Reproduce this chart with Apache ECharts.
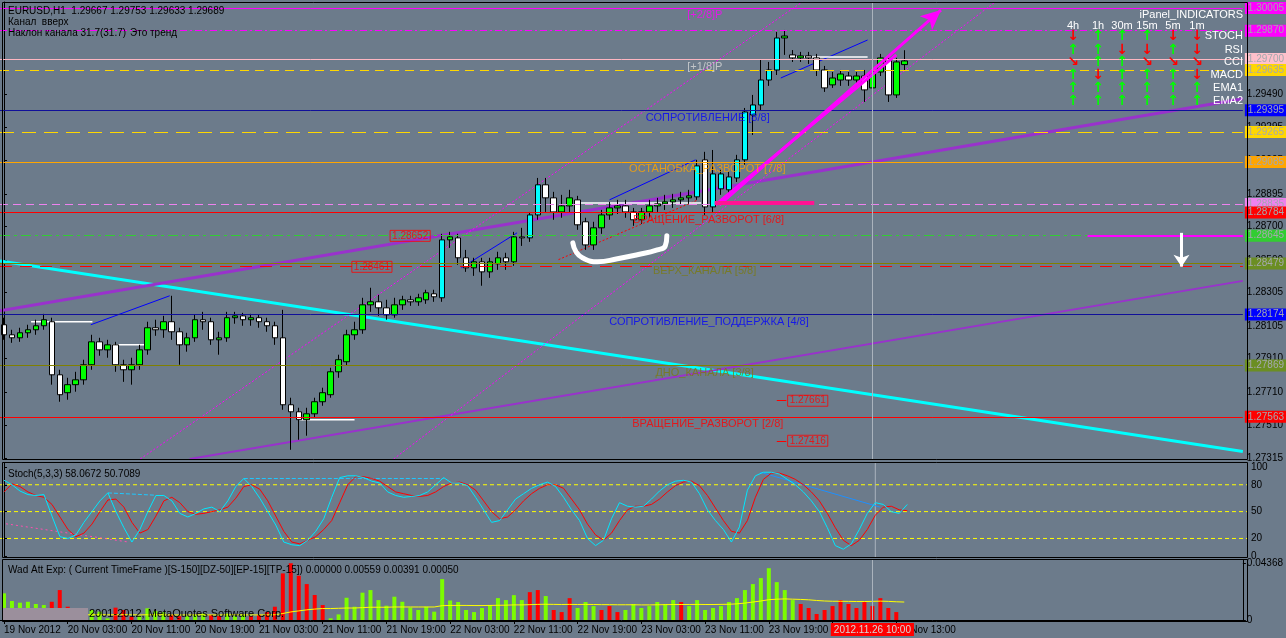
<!DOCTYPE html>
<html><head><meta charset="utf-8">
<script src="https://cdn.jsdelivr.net/npm/echarts@6.0.0/dist/echarts.min.js"></script>
<style>html,body{margin:0;padding:0;background:#6c7b8b;overflow:hidden}#chart{width:1286px;height:638px}</style>
</head><body><div id="chart"></div>
<script>
// ---------- DATA ----------
const openP = [1.28113,1.28053,1.28035,1.28065,1.28083,1.28107,1.28131,1.27814,1.27707,1.27755,
1.27784,1.27874,1.28011,1.27963,1.27993,1.27874,1.27844,1.27874,1.27963,1.28095,
1.28083,1.28131,1.28071,1.27993,1.28035,1.28143,1.28131,1.28023,1.28035,1.28155,
1.28166,1.28143,1.28155,1.28131,1.28107,1.28035,1.27635,1.27593,1.27546,1.27581,
1.27653,1.27695,1.27832,1.27892,1.28053,1.28083,1.28232,1.28250,1.28214,1.28172,
1.28232,1.28262,1.28250,1.28262,1.28298,1.28274,1.28620,1.28632,1.28513,1.28453,
1.28489,1.28429,1.28477,1.28513,1.28489,1.28638,1.28632,1.28769,1.28949,1.28871,
1.28787,1.28823,1.28859,1.28728,1.28590,1.28692,1.28769,1.28811,1.28823,1.28787,
1.28740,1.28787,1.28823,1.28835,1.28847,1.28859,1.28871,1.28877,1.29098,1.28817,
1.28925,1.28919,1.28990,1.29098,1.29366,1.29426,1.29575,1.29635,1.29826,1.29725,
1.29707,1.29719,1.29707,1.29635,1.29546,1.29575,1.29599,1.29575,1.29599,1.29528,
1.29623,1.29695,1.29486,1.29667];
const highP = [1.28155,1.28083,1.28095,1.28113,1.28143,1.28178,1.28155,1.27844,1.27796,1.27832,
1.27904,1.28053,1.28035,1.28023,1.28011,1.27904,1.27916,1.27993,1.28131,1.28143,
1.28166,1.28286,1.28095,1.28065,1.28172,1.28190,1.28155,1.28071,1.28190,1.28190,
1.28184,1.28178,1.28172,1.28155,1.28131,1.28202,1.27677,1.27617,1.27617,1.27677,
1.27737,1.27856,1.27934,1.28083,1.28131,1.28274,1.28334,1.28292,1.28262,1.28274,
1.28286,1.28286,1.28298,1.28322,1.28322,1.28656,1.28668,1.28656,1.28560,1.28513,
1.28513,1.28513,1.28549,1.28543,1.28668,1.28692,1.28787,1.28990,1.28990,1.28907,
1.28889,1.28919,1.28883,1.28752,1.28728,1.28799,1.28847,1.28859,1.28859,1.28811,
1.28811,1.28859,1.28871,1.28889,1.28895,1.28907,1.28919,1.29098,1.29146,1.29157,
1.29038,1.29026,1.29128,1.29408,1.29486,1.29695,1.29683,1.29862,1.29874,1.29754,
1.29743,1.29743,1.29731,1.29659,1.29623,1.29635,1.29623,1.29623,1.29635,1.29695,
1.29731,1.29725,1.29707,1.29753];
const lowP = [1.28023,1.28005,1.28011,1.28035,1.28053,1.28083,1.27755,1.27653,1.27665,1.27713,
1.27755,1.27844,1.27928,1.27916,1.27832,1.27772,1.27755,1.27844,1.27934,1.28047,
1.28035,1.28023,1.27874,1.27952,1.28011,1.28083,1.27993,1.27934,1.28011,1.28119,
1.28107,1.28107,1.28095,1.28071,1.27993,1.27605,1.27366,1.27426,1.27450,1.27558,
1.27629,1.27677,1.27796,1.27868,1.28023,1.28059,1.28190,1.28166,1.28143,1.28155,
1.28202,1.28226,1.28226,1.28238,1.28250,1.28250,1.28572,1.28471,1.28429,1.28405,
1.28346,1.28393,1.28441,1.28441,1.28465,1.28584,1.28608,1.28740,1.28787,1.28740,
1.28752,1.28787,1.28680,1.28560,1.28560,1.28656,1.28740,1.28775,1.28752,1.28704,
1.28716,1.28752,1.28787,1.28799,1.28811,1.28829,1.28835,1.28859,1.28769,1.28787,
1.28889,1.28889,1.28966,1.29068,1.29247,1.29396,1.29540,1.29605,1.29725,1.29683,
1.29683,1.29671,1.29599,1.29504,1.29528,1.29540,1.29540,1.29552,1.29444,1.29504,
1.29599,1.29444,1.29468,1.29633];
const closeP = [1.28053,1.28035,1.28065,1.28083,1.28107,1.28143,1.27814,1.27695,1.27755,1.27784,
1.27874,1.28011,1.27963,1.27993,1.27874,1.27844,1.27874,1.27963,1.28095,1.28083,
1.28131,1.28071,1.27993,1.28035,1.28143,1.28131,1.28023,1.28035,1.28155,1.28166,
1.28143,1.28155,1.28131,1.28107,1.28035,1.27635,1.27593,1.27546,1.27581,1.27653,
1.27707,1.27832,1.27904,1.28053,1.28083,1.28232,1.28250,1.28214,1.28172,1.28232,
1.28262,1.28250,1.28274,1.28304,1.28280,1.28620,1.28638,1.28513,1.28453,1.28489,
1.28429,1.28489,1.28513,1.28489,1.28638,1.28632,1.28769,1.28949,1.28871,1.28787,
1.28823,1.28871,1.28710,1.28590,1.28692,1.28769,1.28811,1.28823,1.28787,1.28740,
1.28787,1.28823,1.28835,1.28847,1.28859,1.28871,1.28883,1.29062,1.28817,1.29014,
1.29014,1.28996,1.29098,1.29384,1.29426,1.29575,1.29635,1.29826,1.29838,1.29707,
1.29719,1.29707,1.29635,1.29528,1.29587,1.29611,1.29575,1.29599,1.29516,1.29623,
1.29707,1.29486,1.29683,1.29689];
// bars flagged by the impulse indicator (drawn cyan)
const impulseBars = [55,66,67,87,89,90,91,92,93,94,95,96,97];

const stochMain = [85,80,73,69,68,69,45,22,20,24, 38,50,62,71,50,32,16,30,50,68,
68,62,48,44,48,53,55,50,62,78, 87,78,65,50,35,16,13,12,18,28, 42,66,88,90,90,88,84,82,72,68,
66,67,68,72,80,88,82,82,79,66, 52,38,40,52,64,70,76,80,83,78, 66,52,40,20,12,18,42,60,56,55,
56,64,73,80,84,85,83,70,52,40, 30,16,33,74,90,94,94,92,86,80, 72,62,50,32,12,8,14,30,48,60, 58,50,48,58];
const stochSignal = [72,81,78,72,68,66,58,44,30,22, 26,36,50,63,64,55,38,26,30,45,
62,66,60,50,47,48,50,52,55,65, 78,80,75,62,45,28,16,14,18,22, 30,40,60,80,89,89,87,84,78,72,
70,68,67,68,72,78,82,83,80,74, 62,50,42,44,52,62,70,76,80,80, 76,64,52,36,24,18,26,40,52,56,
56,58,64,72,79,83,84,79,68,54, 40,28,26,40,66,86,93,93,90,86, 80,72,62,48,32,18,12,18,30,46, 55,56,52,51];

const wadValue = [.0205,.0146,.0133,.0140,.0123,.0115,.0140,.0230,.0102,.0077,
.0026,.0077,.0064,.0013,.0095,.0077,.0026,.0030,.0090,.0070,
.0060,.0040,.0030,.0030,.0040,.0050,.0040,.0030,.0050,.0030,
.0040,.0030,.0040,.0060,.0102,.0358,.0436,.0340,.0276,.0192,
.0115,.0013,.0043,.0171,.0102,.0210,.0230,.0153,.0110,.0179,
.0140,.0095,.0077,.0102,.0064,.0314,.0150,.0138,.0077,.0061,
.0092,.0115,.0168,.0153,.0191,.0153,.0214,.0230,.0184,.0077,
.0061,.0168,.0092,.0138,.0107,.0077,.0107,.0061,.0077,.0123,
.0092,.0107,.0138,.0123,.0153,.0138,.0107,.0153,.0077,.0092,
.0107,.0138,.0168,.0230,.0276,.0322,.0398,.0291,.0230,.0153,
.0123,.0092,.0046,.0077,.0107,.0153,.0123,.0092,.0138,.0107,
.0168,.0092,.0061,.0046];
const wadTrend = "uuuuuuddddduuudddu uuudduuudduuudddddddddduuuuuuuuuuuuuuuuuuuuuuuuudduddduuudddu uuuuuuduuuuuuuuuuuuuuddddddddddddd".replace(/ /g,'').split('');
const wadSignal = [.0040,.0040,.0040,.0039,.0039,.0038,.0039,.0042,.0042,.0041,
.0040,.0040,.0041,.0040,.0040,.0041,.0040,.0039,.0040,.0040,
.0040,.0039,.0039,.0039,.0040,.0040,.0039,.0039,.0040,.0040,
.0040,.0039,.0039,.0040,.0040,.0050,.0062,.0070,.0078,.0084,
.0088,.0088,.0090,.0092,.0092,.0095,.0098,.0098,.0098,.0100,
.0100,.0100,.0100,.0100,.0100,.0110,.0112,.0112,.0112,.0111,
.0111,.0112,.0113,.0114,.0116,.0116,.0118,.0120,.0121,.0120,
.0119,.0120,.0119,.0120,.0119,.0118,.0118,.0117,.0117,.0117,
.0116,.0116,.0117,.0118,.0119,.0119,.0119,.0120,.0119,.0119,
.0120,.0121,.0124,.0130,.0138,.0146,.0156,.0160,.0162,.0160,
.0158,.0155,.0150,.0146,.0144,.0144,.0143,.0142,.0142,.0143,
.0145,.0143,.0140,.0138];

const priceTicks = [1.29490,1.29295,1.29095,1.28895,1.28700,1.28500,1.28305,1.28105,1.27910,1.27710,1.27510,1.27315];
const stochTicks = [0,20,50,80,100];
const stochLevels = [80,50,20];
const wadTicks = [0,0.04368];
const timeTickLabels = ['19 Nov 2012','20 Nov 03:00','20 Nov 11:00','20 Nov 19:00','21 Nov 03:00','21 Nov 11:00',
'21 Nov 19:00','22 Nov 03:00','22 Nov 11:00','22 Nov 19:00','23 Nov 03:00','23 Nov 11:00','23 Nov 19:00','26 Nov 05:00','26 Nov 13:00'];

// Murrey / object levels
const levelPrices = [1.30005,1.29870,1.29700,1.29635,1.29395,1.29265,1.29085,1.28835,1.28784,1.28645,1.28479,1.28174,1.27869,1.27563];
const levelLineColors = ['#ff00ff','#ff00ff','#ffb6c1','#ffd700','#10109a','#ffd700','#ffa500','#ee82ee','#ff0000','#32cd32','#808000','#10109a','#808000','#ff0000'];
const levelLabelColors = ['#ff00ff','#ff00ff','#ffc0cb','#ffd700','#0000ff','#ffd700','#ffa500','#ee82ee','#ff0000','#32cd32','#6b8e23','#0000ff','#6b8e23','#ff0000'];
const levelDash = ['solid',[7,3,2,3],'solid',[9,6],'solid',[14,8],'solid',[8,5],'solid',[10,4,3,4],'solid','solid','solid','solid'];
const extraLevel = 1.28461;

// trend objects (bar index, price)
const cyanTrend = [[-0.5,1.28494],[155.5,1.27356]];
const purpleUpper = [[-0.5,1.28196],[155.5,1.29463]];
const purpleLower = [[23.3,1.27311],[155.5,1.28375]];
const channelA = [[17.1,1.27311],[100.2,1.30041]];
const channelB = [[48.9,1.27311],[124.4,1.30041]];
const channelLow = [[69.6,1.28502],[87.1,1.28859]];
const blueZig = [[[10.9,1.28113],[20.8,1.28286]],[[57.4,1.28453],[64.4,1.28662]],[[76,1.28859],[86.8,1.29098]],[[97.5,1.29587],[108.4,1.29814]]];
const whiteLevels = [[[3.4,1.28131],[11.1,1.28131]],[[13.6,1.27993],[18,1.27993]],[[37.1,1.27546],[44,1.27546]],[[72,1.28841],[87.5,1.28841]],[[98.8,1.29713],[108.4,1.29713]]];
const smileCurve = [[71.4,1.28602],[71.8,1.28549],[72.6,1.28513],[74.5,1.28489],[77,1.28507],[79.5,1.28531],[82,1.28560],[83,1.28584],[83.2,1.28644]];

const murreyTexts = [
 ['[+2/8]P',85.7,1.29963,'#ff00ff'],
 ['[+1/8]P',85.7,1.29653,'#d8d8d8'],
 ['СОПРОТИВЛЕНИЕ [8/8]',80.5,1.29348,'#0000ff'],
 ['ОСТАНОВКА_РАЗВОРОТ [7/8]',78.4,1.29044,'#ffa500'],
 ['ВРАЩЕНИЕ_РАЗВОРОТ [6/8]',78.9,1.28740,'#ff0000'],
 ['ВЕРХ_КАНАЛА [5/8]',81.4,1.28435,'#7a7a10'],
 ['СОПРОТИВЛЕНИЕ_ПОДДЕРЖКА [4/8]',75.9,1.28131,'#0000ff'],
 ['ДНО_КАНАЛА [3/8]',81.7,1.27826,'#7a7a10'],
 ['ВРАЩЕНИЕ_РАЗВОРОТ [2/8]',78.8,1.27522,'#ff0000']
];
const priceBoxes = [['1.28652',48.4,1.28644],['1.28461',43.6,1.28459],['1.27661',98.3,1.27659],['1.27416',98.3,1.27420]];

const panelRows = ['STOCH','RSI','CCI','MACD','EMA1','EMA2'];
const panelCols = ['4h','1h','30m','15m','5m','1m'];
const panelSignals = [['d','u','u','u','d','d'],['u','u','d','d','u','d'],['r','u','u','r','r','r'],['u','d','u','u','u','d'],['u','u','u','u','u','u'],['u','u','u','u','u','u']];

// ---------- BUILD ----------
const NSLOT = 156, XMIN = -0.5, XMAX = 155.5;
const cats = [];
{
  let t = Date.UTC(2012,10,19,19);
  for (let i=0;i<NSLOT;i++){
    const d = new Date(t);
    cats.push(d.getUTCFullYear()+'.'+(d.getUTCMonth()+1)+'.'+d.getUTCDate()+' '+String(d.getUTCHours()).padStart(2,'0')+':00');
    t += 3600000;
    if (d.getUTCDate()===23 && d.getUTCHours()===21) t = Date.UTC(2012,10,26,0);
  }
}
const crossIdx = 109;
const candleData = openP.map((o,i)=>{
  const v=[o,closeP[i],lowP[i],highP[i]];
  if (impulseBars.indexOf(i)>=0) return {value:v,itemStyle:{color:'#00ffff',color0:'#00ffff',borderColor:'#000',borderColor0:'#000'}};
  return v;
});
const wadUp = wadValue.map((v,i)=>wadTrend[i]==='u'?v:0);
const wadDn = wadValue.map((v,i)=>wadTrend[i]==='d'?v:0);

const FONT = 'Liberation Sans';
const hline = (p,color,type,width,label)=>[{coord:[XMIN,p],lineStyle:{color:color,type:type,width:width||1},label:label||{show:false}},{coord:[XMAX,p]}];
const levelMarks = levelPrices.map((p,i)=>hline(p,levelLineColors[i],levelDash[i],1,
  {show:true,position:'end',formatter:p.toFixed(5),backgroundColor:levelLabelColors[i],color:'#a4a8ae',fontSize:10,fontFamily:FONT,padding:[1,8,1,3],distance:2}));
levelMarks.push(hline(extraLevel,'#ff0000',[12,8],1));
const seg2 = (a,b,color,width,extra)=>[Object.assign({coord:a,lineStyle:{color:color,width:width,type:'solid'}},extra&&extra[0]||{}),Object.assign({coord:b},extra&&extra[1]||{})];
const objMarks = [
  seg2([89.3,1.28829],[112.0,1.29725],'#ff00ff',3),
  seg2([89.8,1.28829],[117.6,1.29993],'#ff00ff',3,[{},{symbol:'arrow',symbolSize:[14,20]}]),
  seg2([89.2,1.28841],[101.7,1.28841],'#ff1493',4),
  seg2([136,1.28644],[XMAX,1.28644],'#ff00ff',2),
  seg2([147.8,1.28662],[147.8,1.28460],'#ffffff',3,[{},{symbol:'arrow',symbolSize:[12,12]}]),
  seg2([97,1.27659],[98.2,1.27659],'#ff0000',1),
  seg2([97,1.27420],[98.2,1.27420],'#ff0000',1),
  seg2([crossIdx,1.27311],[crossIdx,1.30041],'#aab3bd',1)
];

function seg(data,color,width,type,z){
  return {type:'line',xAxisIndex:3,yAxisIndex:0,data:data,symbol:'none',silent:true,z:z||3,
    lineStyle:{color:color,width:width,type:type||'solid'}};
}
const series = [];
series.push({type:'line',xAxisIndex:3,yAxisIndex:0,data:[],symbol:'none',z:1,
  markLine:{silent:true,symbol:['none','none'],animation:false,lineStyle:{type:'solid'},label:{show:false},data:levelMarks}});
series.push({
  type:'candlestick',xAxisIndex:0,yAxisIndex:0,data:candleData,barWidth:6,z:4,
  itemStyle:{color:'#00ff00',color0:'#ffffff',borderColor:'#000',borderColor0:'#000',borderWidth:1}
});
series.push(seg(cyanTrend,'#00ffff',3));
series.push(seg(purpleUpper,'#9932cc',3));
series.push(seg(purpleLower,'#9932cc',2));
series.push(seg(channelA,'#ff00ff',1,[2,2]));
series.push(seg(channelB,'#ff00ff',1,[2,2]));
series.push(seg(channelLow,'#ff0000',1,[2,2]));
blueZig.forEach(d=>series.push(seg(d,'#0000ff',1)));
whiteLevels.forEach(d=>series.push(seg(d,'#ffffff',1.5)));
series.push({type:'line',xAxisIndex:3,yAxisIndex:0,data:smileCurve,smooth:true,symbol:'none',z:5,lineStyle:{color:'#ffffff',width:5,cap:'round'}});
series.push({type:'line',xAxisIndex:3,yAxisIndex:0,data:[],symbol:'none',z:5,
  markLine:{silent:true,animation:false,symbol:['none','none'],lineStyle:{type:'solid'},label:{show:false},data:objMarks}});
series.push({type:'scatter',xAxisIndex:3,yAxisIndex:0,symbolSize:1,itemStyle:{color:'rgba(0,0,0,0)'},z:6,silent:true,
  data:murreyTexts.map(t=>({value:[t[1],t[2]],label:{show:true,position:'right',distance:0,formatter:t[0],color:t[3],fontSize:11,fontFamily:FONT}}))});
series.push({type:'scatter',xAxisIndex:3,yAxisIndex:0,symbolSize:1,itemStyle:{color:'rgba(0,0,0,0)'},z:6,silent:true,
  data:priceBoxes.map(t=>({value:[t[1],t[2]],label:{show:true,position:'right',distance:0,formatter:t[0],color:'#ff0000',fontSize:10,fontFamily:FONT,borderColor:'#ff0000',borderWidth:1,padding:[1,2,0,2]}}))});

// stochastic
function sseg(data,color,type,z){return {type:'line',xAxisIndex:4,yAxisIndex:1,data:data,symbol:'none',silent:true,z:z||2,lineStyle:{color:color,width:1,type:type}};}
stochLevels.forEach(v=>series.push(sseg([[XMIN,v],[XMAX,v]],'#ffff00',[4,3],1)));
series.push(sseg([[crossIdx,-0.7],[crossIdx,104.3]],'#aab3bd','solid',1));
series.push({type:'line',xAxisIndex:1,yAxisIndex:1,data:stochMain,symbol:'none',lineStyle:{color:'#00e8ff',width:1},z:4});
series.push({type:'line',xAxisIndex:1,yAxisIndex:1,data:stochSignal,symbol:'none',lineStyle:{color:'#ff0000',width:1},z:3});
series.push(sseg([[0.25,36.4],[15.5,16.1]],'#ff4fb0',[2,3]));
series.push(sseg([[13,70.9],[19,68.3]],'#1ec8ff',[4,2]));
series.push(sseg([[30,87],[55,87]],'#1ec8ff',[4,2]));
series.push(sseg([[94.6,94],[109.6,55]],'#1e90ff','solid'));

// WAD histogram
series.push({type:'bar',xAxisIndex:2,yAxisIndex:2,data:wadUp,barWidth:4,barGap:'-100%',itemStyle:{color:'#7cfc00'},z:2,
  markLine:{silent:true,symbol:'none',animation:false,data:[{xAxis:cats[crossIdx],lineStyle:{color:'#aab3bd',type:'solid',width:1},
    label:{show:true,position:'start',formatter:'2012.11.26 10:00',backgroundColor:'#ff0000',color:'#d8d8d8',fontSize:10,fontFamily:FONT,padding:[2,3,1,3],distance:3}}]}});
series.push({type:'bar',xAxisIndex:2,yAxisIndex:2,data:wadDn,barWidth:4,barGap:'-100%',itemStyle:{color:'#ff0000'},z:2});
series.push({type:'line',xAxisIndex:2,yAxisIndex:2,data:wadSignal,symbol:'none',lineStyle:{color:'#ffff00',width:1},z:3});

const hiddenCat = (g)=>({type:'category',gridIndex:g,data:cats,boundaryGap:true,axisLine:{show:false},axisTick:{show:false},axisLabel:{show:false},splitLine:{show:false}});
const showTick = (idx)=> idx%8===0 && idx<=112;
const rightAxis = (g,min,max,ticks,fmt)=>({type:'value',gridIndex:g,position:'right',min:min,max:max,splitLine:{show:false},
  axisLine:{show:true,lineStyle:{color:'#000'}},
  axisTick:{show:true,customValues:ticks,length:3,lineStyle:{color:'#000'}},
  axisLabel:{show:true,customValues:ticks,formatter:fmt,color:'#000',fontSize:10,fontFamily:FONT,margin:4}});

// graphics
const gfx = [];
[[2.5,2.5,1245,457],[2.5,462.5,1245,95],[2.5,559.5,1245,62]].forEach(r=>gfx.push({type:'rect',shape:{x:r[0],y:r[1],width:r[2],height:r[3]},style:{fill:'none',stroke:'#000',lineWidth:1},z:50,silent:true}));
const txt=(x,y,s,fill,size,align,weight,z)=>({type:'text',x:x,y:y,z:z||60,silent:true,style:{text:s,fill:fill,font:(weight||'normal')+' '+(size||10)+'px "'+FONT+'"',align:align||'left',verticalAlign:'middle'}});
gfx.push(txt(8,11,'EURUSD,H1  1.29667 1.29753 1.29633 1.29689','#000'));
gfx.push(txt(8,22,'Канал  вверх','#000'));
gfx.push(txt(8,33,'Наклон канала 31.7(31.7)','#000'));
gfx.push(txt(130,33,'Это тренд','#000'));
gfx.push(txt(8,474,'Stoch(5,3,3) 58.0672 50.7089','#000'));
gfx.push(txt(8,570,'Wad Att Exp: ( Current TimeFrame )[S-150][DZ-50][EP-15][TP-15]) 0.00000 0.00559 0.00391 0.00050','#000'));
gfx.push({type:'rect',shape:{x:3,y:608,width:85,height:12},style:{fill:'#9b8f9c'},z:55,silent:true});
gfx.push(txt(89,614,'2001-2012, MetaQuotes Software Corp.','#000',11));
gfx.push(txt(1243,15,'iPanel_INDICATORS','#ffffff',11,'right'));
const colX=[1073,1098,1122,1147,1173,1197];
const rowY=[36,50,62,75,88,101];
panelCols.forEach((c,j)=>gfx.push(txt(colX[j],26,c,'#ffffff',11,'center')));
panelRows.forEach((r,i)=>gfx.push(txt(1243,rowY[i],r,'#ffffff',11,'right')));
panelSignals.forEach((row,i)=>row.forEach((s,j)=>{
  const ch = s==='u'?'↑':(s==='d'?'↓':'↘');
  const col = s==='u'?'#00ff00':'#ff0000';
  gfx.push({type:'text',x:colX[j],y:rowY[i],z:61,silent:true,style:{text:ch,fill:col,font:'bold 14px "DejaVu Sans"',align:'center',verticalAlign:'middle'}});
}));

const option = {
  backgroundColor:'#6c7b8b',
  animation:false,
  textStyle:{fontFamily:FONT},
  grid:[
    {left:-1,top:2,width:1248,height:457},
    {left:-1,top:463,width:1248,height:94},
    {left:-1,top:560,width:1248,height:60}
  ],
  xAxis:[
    hiddenCat(0), hiddenCat(1),
    {type:'category',gridIndex:2,data:cats,boundaryGap:true,splitLine:{show:false},
      axisLine:{show:true,lineStyle:{color:'#000'}},
      axisTick:{show:true,interval:showTick,alignWithLabel:true,length:4,lineStyle:{color:'#000'}},
      axisLabel:{show:true,interval:showTick,formatter:(v,i)=>timeTickLabels[i/8],color:'#000',fontSize:10,fontFamily:FONT,align:'left',margin:5}},
    {type:'value',gridIndex:0,min:XMIN,max:XMAX,show:false},
    {type:'value',gridIndex:1,min:XMIN,max:XMAX,show:false}
  ],
  yAxis:[
    rightAxis(0,1.27311,1.30041,priceTicks,v=>v.toFixed(5)),
    rightAxis(1,-0.7,104.3,stochTicks,v=>String(v)),
    rightAxis(2,0,0.0461,wadTicks,v=>v===0?'0':v.toFixed(5))
  ],
  series:series,
  graphic:gfx
};
const chart = echarts.init(document.getElementById('chart'),null,{renderer:'canvas'});
chart.setOption(option);
</script></body></html>
